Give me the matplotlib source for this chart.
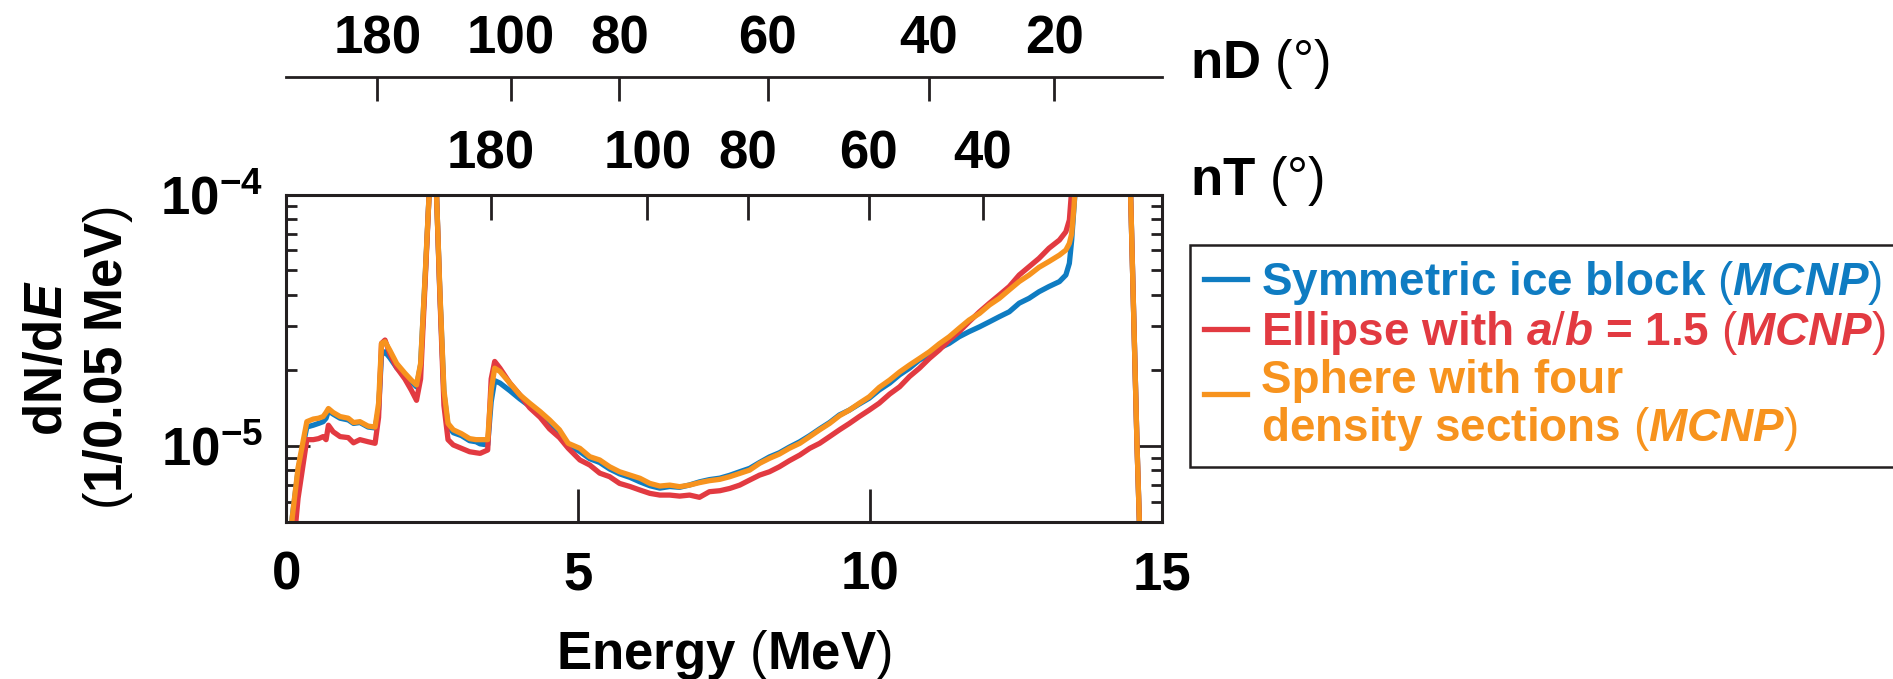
import matplotlib
matplotlib.use("Agg")
import matplotlib.pyplot as plt
from matplotlib import font_manager
from matplotlib.legend_handler import HandlerLine2D
from matplotlib.ticker import LogLocator, NullFormatter, NullLocator

# energy grid (MeV) and spectra, in units of 1e-5 per 0.05 MeV
energy = [
    0.05, 0.1, 0.2, 0.35, 0.46, 0.55, 0.63, 0.68, 0.72, 0.8,
    0.92, 1.06, 1.15, 1.26, 1.4, 1.52, 1.58, 1.63, 1.69, 1.77,
    1.89, 2.03, 2.14, 2.23, 2.3, 2.38, 2.45, 2.5, 2.57, 2.63,
    2.7, 2.77, 2.86, 3.0, 3.14, 3.25, 3.32, 3.45, 3.51, 3.57,
    3.66, 3.83, 4.0, 4.17, 4.35, 4.51, 4.68, 4.83, 5.03, 5.2,
    5.37, 5.54, 5.71, 5.89, 6.06, 6.23, 6.4, 6.57, 6.74, 6.91,
    7.08, 7.25, 7.43, 7.6, 7.77, 7.94, 8.11, 8.28, 8.45, 8.62,
    8.8, 8.97, 9.14, 9.31, 9.48, 9.65, 9.82, 9.99, 10.16, 10.34,
    10.51, 10.68, 10.85, 11.02, 11.19, 11.36, 11.53, 11.7, 11.88, 12.05,
    12.22, 12.39, 12.56, 12.73, 12.9, 13.07, 13.25, 13.36, 13.42, 13.46,
    13.5, 13.55, 13.8, 14.1, 14.4, 14.47, 14.52, 14.58, 14.62, 14.68,
]

ice_block = [
    0.35, 0.52, 0.80, 1.19, 1.21, 1.23, 1.25, 1.29, 1.38, 1.34,
    1.29, 1.27, 1.23, 1.24, 1.19, 1.18, 1.40, 2.30, 2.37, 2.25,
    2.05, 1.90, 1.80, 1.72, 2.10, 4.8, 10.5, 30.0, 10.5, 4.1,
    1.62, 1.20, 1.13, 1.10, 1.05, 1.04, 1.02, 1.01, 1.50, 1.82,
    1.78, 1.66, 1.54, 1.44, 1.33, 1.24, 1.13, 1.01, 0.95, 0.89,
    0.86, 0.81, 0.775, 0.75, 0.72, 0.695, 0.68, 0.69, 0.685, 0.70,
    0.72, 0.735, 0.745, 0.765, 0.79, 0.815, 0.86, 0.905, 0.94, 0.99,
    1.04, 1.10, 1.17, 1.24, 1.33, 1.39, 1.47, 1.55, 1.67, 1.78,
    1.92, 2.04, 2.20, 2.30, 2.45, 2.56, 2.72, 2.85, 2.98, 3.12,
    3.27, 3.42, 3.70, 3.87, 4.11, 4.31, 4.51, 4.79, 5.33, 6.6,
    8.96, 13.0, 60.0, 300.0, 40.0, 10.0, 3.5, 1.0, 0.5, 0.2,
]

ellipse = [
    0.2, 0.35, 0.62, 1.06, 1.06, 1.07, 1.09, 1.06, 1.21, 1.14,
    1.09, 1.08, 1.03, 1.06, 1.04, 1.025, 1.30, 2.56, 2.64, 2.34,
    2.05, 1.85, 1.67, 1.52, 1.85, 4.6, 10.5, 30.0, 10.5, 4.0,
    1.45, 1.06, 1.01, 0.979, 0.949, 0.94, 0.935, 0.964, 1.85, 2.17,
    2.04, 1.78, 1.60, 1.42, 1.30, 1.17, 1.08, 0.98, 0.88, 0.84,
    0.78, 0.755, 0.71, 0.69, 0.668, 0.648, 0.638, 0.638, 0.632, 0.638,
    0.625, 0.658, 0.664, 0.678, 0.699, 0.732, 0.766, 0.79, 0.827, 0.874,
    0.921, 0.979, 1.025, 1.09, 1.16, 1.23, 1.31, 1.39, 1.48, 1.61,
    1.72, 1.89, 2.04, 2.23, 2.41, 2.64, 2.85, 3.12, 3.42, 3.70,
    3.99, 4.31, 4.79, 5.17, 5.58, 6.12, 6.60, 7.12, 7.93, 10.5,
    13.0, 16.0, 60.0, 300.0, 40.0, 10.0, 3.5, 1.0, 0.5, 0.2,
]

sphere = [
    0.35, 0.52, 0.82, 1.25, 1.28, 1.29, 1.31, 1.36, 1.41, 1.36,
    1.31, 1.29, 1.24, 1.25, 1.20, 1.19, 1.48, 2.56, 2.60, 2.41,
    2.13, 1.95, 1.83, 1.75, 2.13, 4.87, 10.5, 30.0, 10.5, 4.18,
    1.67, 1.23, 1.16, 1.12, 1.07, 1.06, 1.06, 1.06, 1.67, 2.04,
    1.98, 1.78, 1.60, 1.48, 1.37, 1.27, 1.16, 1.025, 0.979, 0.907,
    0.880, 0.827, 0.790, 0.766, 0.744, 0.710, 0.693, 0.699, 0.689, 0.699,
    0.715, 0.728, 0.737, 0.755, 0.778, 0.802, 0.853, 0.893, 0.929, 0.979,
    1.025, 1.09, 1.16, 1.23, 1.32, 1.39, 1.48, 1.57, 1.71, 1.83,
    1.97, 2.10, 2.23, 2.37, 2.55, 2.72, 2.94, 3.17, 3.37, 3.64,
    3.87, 4.18, 4.51, 4.79, 5.14, 5.42, 5.75, 6.02, 6.40, 7.0,
    9.0, 14.0, 60.0, 300.0, 40.0, 10.0, 3.5, 1.0, 0.5, 0.2,
]

# scattering-angle scales (lab angle in degrees -> scattered neutron energy in MeV)
nd_angles = [180, 100, 80, 60, 40, 20]
nd_energy = [1.557, 3.841, 5.707, 8.250, 11.01, 13.16]
nt_angles = [180, 100, 80, 60, 40]
nt_energy = [3.503, 6.187, 7.904, 9.978, 11.934]

labels = [
    r"Symmetric ice block $(\mathit{MCNP})$",
    r"Ellipse with $\mathit{a/b}$ = 1.5 $(\mathit{MCNP})$",
    "Sphere with four\n" + r"density sections $(\mathit{MCNP})$",
]
colors = ["#0f7cc2", "#e23a41", "#f7931e"]

names = {f.name for f in font_manager.fontManager.ttflist}
face = "Liberation Sans Narrow" if "Liberation Sans Narrow" in names else "Liberation Sans"
plt.rcParams["font.family"] = [face, "DejaVu Sans"]
plt.rcParams["font.weight"] = "bold"
plt.rcParams["mathtext.fontset"] = "custom"
plt.rcParams["mathtext.rm"] = face + ":weight=normal"
plt.rcParams["mathtext.it"] = face + ":italic:bold"
plt.rcParams["mathtext.bf"] = face + ":bold"

ink = "#231f20"
fs = 38


class RaisedLine(HandlerLine2D):
    # legend line drawn level with the first line of a two-line label
    def __init__(self, dy, **kw):
        super().__init__(**kw)
        self.dy = dy

    def create_artists(self, legend, orig_handle, xdescent, ydescent, width,
                       height, fontsize, trans):
        return super().create_artists(legend, orig_handle, xdescent,
                                      ydescent - self.dy, width, height,
                                      fontsize, trans)


fig = plt.figure(figsize=(18.93, 6.79), dpi=100)
ax = fig.add_axes([0.1513, 0.2317, 0.4623, 0.4816])

scale = 1e-5
lines = []
for vals, c in zip([ice_block, ellipse, sphere], colors):
    (ln,) = ax.plot(energy, [v * scale for v in vals], color=c, lw=3.8)
    lines.append(ln)

ax.set_yscale("log")
ax.set_xlim(0, 15)
ax.set_ylim(5e-6, 1e-4)
ax.set_xticks([0, 5, 10, 15])
ax.set_yticks([1e-5, 1e-4], labels=[r"$\mathbf{10^{-5}}$", r"$\mathbf{10^{-4}}$"])
ax.yaxis.set_minor_locator(LogLocator(base=10, subs=range(2, 10)))
ax.yaxis.set_minor_formatter(NullFormatter())
ax.xaxis.set_minor_locator(NullLocator())
for s in ax.spines.values():
    s.set_color(ink)
    s.set_linewidth(2.2)
ax.tick_params(axis="x", which="major", direction="in", top=False, length=24,
               width=2, color=ink, pad=21, labelsize=fs)
ax.tick_params(axis="y", which="major", direction="in", right=True, length=17,
               width=2, color=ink, pad=17, labelsize=fs)
ax.tick_params(axis="y", which="minor", direction="in", right=True, length=8,
               width=2, color=ink)

# nT angle scale on top of the plot frame
ax_t = ax.twiny()
ax_t.set_xlim(0, 15)
ax_t.set_xticks(nt_energy, labels=[str(a) for a in nt_angles])
ax_t.xaxis.set_minor_locator(NullLocator())
ax_t.tick_params(axis="x", direction="in", top=True, bottom=False, length=18,
                 width=2, color=ink, pad=11, labelsize=fs)
for s in ax_t.spines.values():
    s.set_visible(False)

# nD angle scale as a separate line above
ax_nd = fig.add_axes([0.1513, 0.8762, 0.4623, 0.01])
ax_nd.patch.set_visible(False)
ax_nd.set_xlim(0, 15)
ax_nd.set_yticks([])
for k in ["left", "right", "bottom"]:
    ax_nd.spines[k].set_visible(False)
ax_nd.spines["top"].set_color(ink)
ax_nd.spines["top"].set_linewidth(2.0)
ax_nd.xaxis.set_ticks_position("top")
ax_nd.set_xticks(nd_energy, labels=[str(a) for a in nd_angles])
ax_nd.xaxis.set_minor_locator(NullLocator())
ax_nd.tick_params(axis="x", direction="in", length=17, width=2, color=ink,
                  pad=9.5, labelsize=fs)

fig.text(0.6286, 0.8851, r"nD $(°)$", fontsize=fs, ha="left", va="baseline")
fig.text(0.6286, 0.7128, r"nT $(°)$", fontsize=fs, ha="left", va="baseline")

fig.text(0.0417, 0.4728, "dN/d$\\mathit{E}$\n$($1/0.05 MeV$)$", fontsize=fs,
         rotation=90, ha="center", va="center", multialignment="center")
fig.text(0.3825, 0.0150, r"Energy $($MeV$)$", fontsize=fs, ha="center", va="baseline")

leg = ax.legend(lines, labels, loc="upper left",
                bbox_to_anchor=(1190 / 1893, 1 - 245 / 679),
                bbox_transform=fig.transFigure, borderaxespad=0, fontsize=33,
                handlelength=0.95, handletextpad=0.3, labelspacing=0.05,
                borderpad=0.3, fancybox=False, framealpha=1, edgecolor=ink,
                labelcolor="linecolor",
                handler_map={lines[2]: RaisedLine(19)})
leg.get_frame().set_linewidth(1.8)
leg.get_texts()[2].set_linespacing(1.05)

fig.savefig("out.png", dpi=100)
